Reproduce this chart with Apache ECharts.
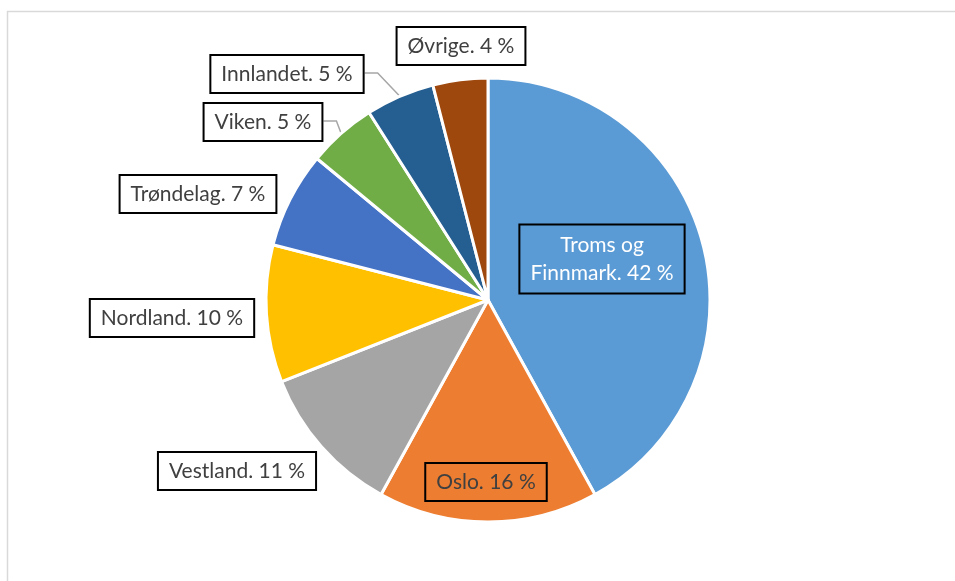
<!DOCTYPE html>
<html>
<head>
<meta charset="utf-8">
<script src="https://cdn.jsdelivr.net/npm/echarts@6/dist/echarts.min.js"></script>
<style>
  html, body { margin: 0; padding: 0; background: #fff; }
  #chart { width: 955px; height: 581px; }
</style>
</head>
<body>
<div id="chart"></div>
<script>
// data
const regions = ['Troms og Finnmark', 'Oslo', 'Vestland', 'Nordland', 'Trøndelag', 'Viken', 'Innlandet', 'Øvrige'];
const shares = [42, 16, 11, 10, 7, 5, 5, 4];
const colors = ['#5B9BD5', '#ED7D31', '#A5A5A5', '#FFC000', '#4472C4', '#70AD47', '#255E91', '#9E480E'];

// where each label box sits (centre of box)
const labelPos = {
  'Troms og Finnmark': [602, 259],
  'Oslo': [486, 482],
  'Vestland': [237, 471],
  'Nordland': [172, 318],
  'Trøndelag': [198, 194],
  'Viken': [263, 122],
  'Innlandet': [287, 74],
  'Øvrige': [461, 46]
};
const withLine = ['Viken', 'Innlandet'];

const chart = echarts.init(document.getElementById('chart'), null, { renderer: 'canvas' });

let pieData = [];
for (let i = 0; i < regions.length; i++) {
  let item = {
    name: regions[i],
    value: shares[i],
    itemStyle: { color: colors[i] }
  };
  if (i === 0) {
    item.label = { color: '#fff', backgroundColor: colors[0], lineHeight: 28 };
  } else if (i === 1) {
    item.label = { color: '#404040', backgroundColor: colors[1] };
  }
  if (withLine.indexOf(regions[i]) >= 0) {
    item.labelLine = { show: true };
  }
  pieData.push(item);
}

const option = {
  animation: false,
  graphic: [{
    type: 'rect',
    shape: { x: 7.5, y: 11.5, width: 1200, height: 1200 },
    style: { fill: 'none', stroke: '#D9D9D9', lineWidth: 1.5 },
    silent: true
  }],
  series: [{
    type: 'pie',
    center: [488, 300],
    radius: 222,
    startAngle: 90,
    clockwise: true,
    data: pieData,
    itemStyle: { borderColor: '#fff', borderWidth: 3 },
    emphasis: { disabled: true },
    label: {
      show: true,
      position: 'outside',
      fontFamily: 'Lato',
      fontSize: 21,
      lineHeight: 25,
      color: '#404040',
      backgroundColor: '#fff',
      borderColor: '#000',
      borderWidth: 2,
      padding: [6, 10, 5, 10],
      formatter: function (p) {
        let name = p.name.replace('Troms og ', 'Troms og\n');
        return name + '. ' + p.value + ' %';
      }
    },
    labelLine: {
      show: false,
      lineStyle: { color: '#A6A6A6', width: 1.5 }
    },
    labelLayout: function (params) {
      const name = regions[params.dataIndex];
      const pos = labelPos[name];
      let res = {
        x: pos[0],
        y: pos[1],
        align: 'center',
        verticalAlign: 'middle',
        hideOverlap: false,
        moveOverlap: false
      };
      if (withLine.indexOf(name) >= 0 && params.labelLinePoints) {
        const start = params.labelLinePoints[0];
        const endX = pos[0] + params.labelRect.width / 2;
        const ly = pos[1] - 1;
        res.labelLinePoints = [start, [endX + 13, ly], [endX, ly]];
      }
      return res;
    }
  }]
};

chart.setOption(option);
</script>
</body>
</html>
